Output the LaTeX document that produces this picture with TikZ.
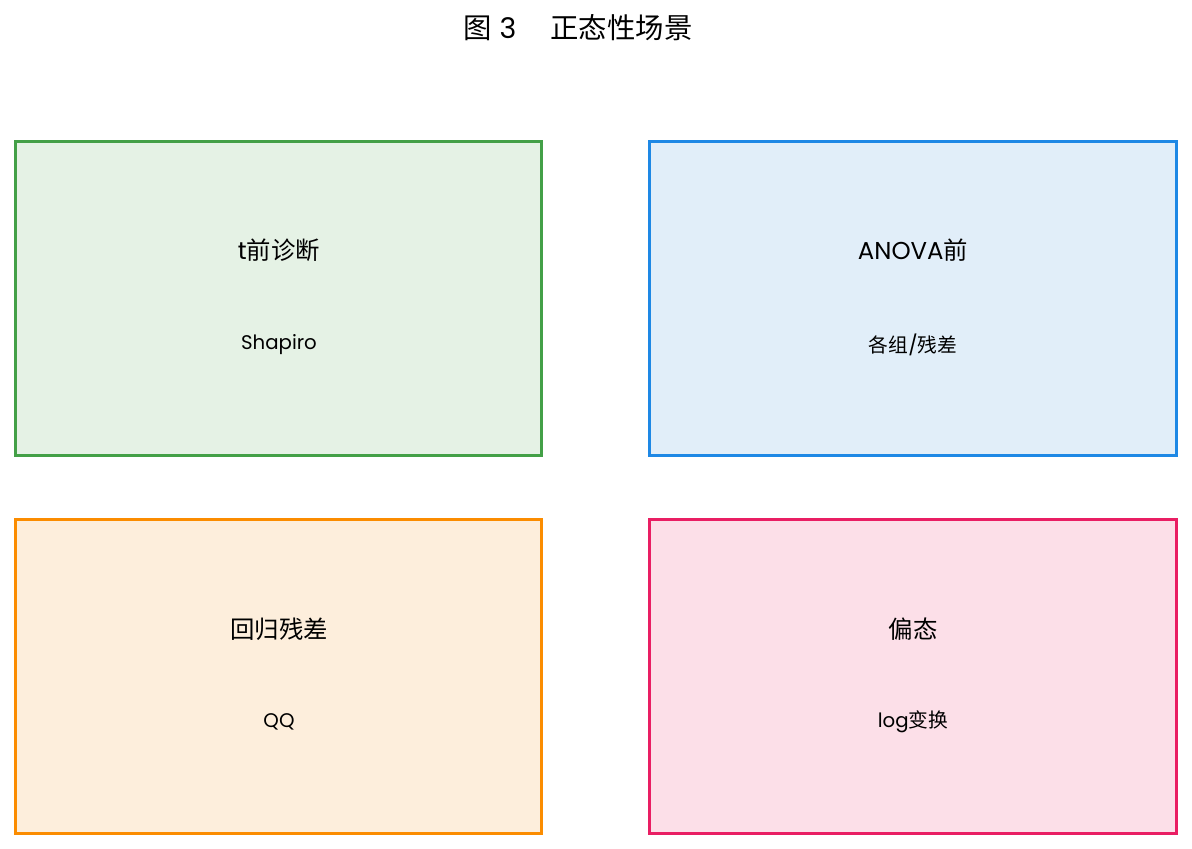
\documentclass[tikz,border=0pt]{standalone}
\usepackage{fontspec}
\setmainfont{Noto Sans CJK SC}
\newfontfamily\latin{Poppins}
\usetikzlibrary{positioning}

\definecolor{gline}{HTML}{43A047}
\definecolor{gfill}{HTML}{E5F2E5}
\definecolor{bline}{HTML}{1E88E5}
\definecolor{bfill}{HTML}{E1EEF9}
\definecolor{oline}{HTML}{FB8C00}
\definecolor{ofill}{HTML}{FDEEDC}
\definecolor{pline}{HTML}{E91E63}
\definecolor{pfill}{HTML}{FCDFE8}

\begin{document}
\begin{tikzpicture}[x=0.75pt, y=-0.75pt]
		\tikzstyle{Box} = [rectangle, minimum width=395pt, minimum height=235pt, line width=2.4pt, inner sep=0pt]
		\tikzstyle{Head} = [font=\fontsize{18.3}{21}\selectfont, inner sep=0pt]
		\tikzstyle{Sub} = [font=\fontsize{14.8}{18}\selectfont, inner sep=0pt]
		
		\useasboundingbox (0,0) rectangle (1192,849);
		\node (title) at (578,28) {\fontsize{21.3}{24}\selectfont 图{\latin\ 3}\hspace{1.2em}正态性场景};
		
		\node (t1) [Box, draw=gline, fill=gfill] at (278.5,298.5) {};
		\node (h1) [Head] at (279,250) {{\latin t}前诊断};
		\node (s1) [Sub] at (279,345) {\latin Shapiro};
		
		\node (t2) [Box, draw=bline, fill=bfill] at (913,298.5) {};
		\node (h2) [Head] at (913,250) {{\latin ANOVA}前};
		\node (s2) [Sub] at (913,345) {各组{\latin /}残差};
		
		\node (t3) [Box, draw=oline, fill=ofill] at (278.5,676.5) {};
		\node (h3) [Head] at (279,629) {回归残差};
		\node (s3) [Sub] at (279,722) {\latin QQ};
		
		\node (t4) [Box, draw=pline, fill=pfill] at (913,676.5) {};
		\node (h4) [Head] at (913,629) {偏态};
		\node (s4) [Sub] at (913,722) {{\latin log}变换};
\end{tikzpicture}
\end{document}
